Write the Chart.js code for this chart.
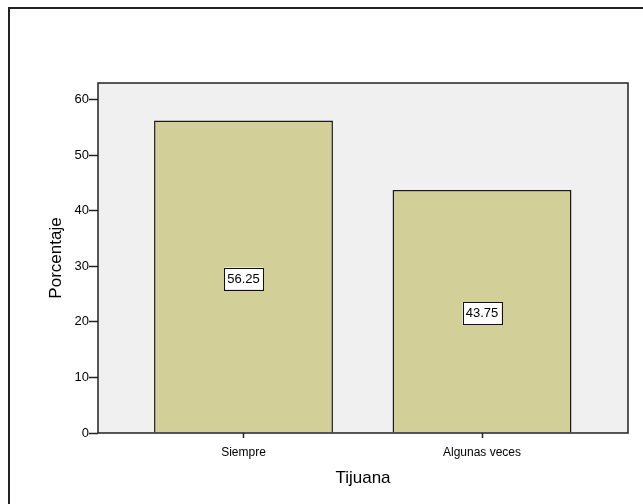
<!DOCTYPE html>
<html>
<head>
<meta charset="utf-8">
<script src="https://cdn.jsdelivr.net/npm/chart.js@4"></script>
<style>
  body { margin: 0; background: #fff; }
  #wrap { width: 643px; height: 504px; }
</style>
</head>
<body>
<div id="wrap"><canvas id="myChart"></canvas></div>
<script>
const categories = ['Siempre', 'Algunas veces'];
const percentages = [56.25, 43.75];
const yTicks = [0, 10, 20, 30, 40, 50, 60];

const ctx = document.getElementById('myChart').getContext('2d');
const FONT = 'Arial, "Liberation Sans", sans-serif';

// outer frame + grey plot background
const backdrop = {
    id: 'backdrop',
    beforeDraw(chart) {
        const c = chart.ctx, a = chart.chartArea;
        c.save();
        c.fillStyle = '#f0f0f0';
        c.fillRect(a.left, a.top, a.right - a.left, a.bottom - a.top);
        c.strokeStyle = '#222';
        c.lineWidth = 2;
        c.strokeRect(9, 8, 700, 600);
        c.restore();
    },
    afterDatasetsDraw(chart) {
        const c = chart.ctx, a = chart.chartArea;
        c.save();
        c.strokeStyle = '#222';
        c.lineWidth = 1.5;
        c.strokeRect(a.left, a.top, a.right - a.left, a.bottom - a.top);
        c.restore();
    }
};

// boxed value labels in the middle of each bar
const valueBoxes = {
    id: 'valueBoxes',
    afterDatasetsDraw(chart) {
        const c = chart.ctx;
        const meta = chart.getDatasetMeta(0);
        c.save();
        c.font = '13px ' + FONT;
        c.textAlign = 'center';
        c.textBaseline = 'middle';
        meta.data.forEach((bar, i) => {
            const txt = percentages[i].toFixed(2);
            const cx = bar.x;
            const cy = (bar.y + bar.base) / 2 + 2;
            const w = 39, h = 22;
            c.fillStyle = '#fff';
            c.fillRect(cx - w / 2, cy - h / 2, w, h);
            c.strokeStyle = '#111';
            c.lineWidth = 1;
            c.strokeRect(Math.round(cx - w / 2) + 0.5, Math.round(cy - h / 2) + 0.5, w, h);
            c.fillStyle = '#000';
            c.fillText(txt, cx, cy + 0.5);
        });
        c.restore();
    }
};

new Chart(ctx, {
    type: 'bar',
    data: {
        datasets: [{
            data: categories.map((_, i) => ({ x: i, y: percentages[i] })),
            backgroundColor: '#d3cf99',
            borderColor: '#1a1a1a',
            borderWidth: 1.5,
            barPercentage: 0.75,
            categoryPercentage: 1
        }]
    },
    options: {
        responsive: true,
        maintainAspectRatio: false,
        animation: false,
        layout: { padding: { left: 0, top: 83, right: 15, bottom: 0 } },
        plugins: {
            legend: { display: false },
            tooltip: { enabled: false }
        },
        scales: {
            x: {
                type: 'linear',
                offset: false,
                min: -0.61,
                max: 1.612,
                afterBuildTicks: (scale) => { scale.ticks = categories.map((_, i) => ({ value: i })); },
                afterFit: (scale) => { scale.height = 71; },
                grid: { display: true, drawOnChartArea: false, drawTicks: true, tickLength: 5, tickWidth: 1.5, offset: false, color: '#222' },
                border: { display: false },
                ticks: {
                    color: '#000',
                    padding: 7,
                    maxRotation: 0,
                    autoSkip: false,
                    font: { family: FONT, size: 12 },
                    callback: (value) => categories[value]
                },
                title: {
                    display: true,
                    text: 'Tijuana',
                    color: '#000',
                    font: { family: FONT, size: 17 },
                    padding: { top: 0, bottom: 15 }
                }
            },
            y: {
                min: 0,
                max: 63,
                afterBuildTicks: (scale) => { scale.ticks = yTicks.map(v => ({ value: v })); },
                afterFit: (scale) => { scale.width = 98; },
                grid: { display: true, drawOnChartArea: false, drawTicks: true, tickLength: 9, tickWidth: 1.5, color: '#222' },
                border: { display: false },
                ticks: {
                    color: '#000',
                    padding: 0,
                    font: { family: FONT, size: 13 }
                },
                title: {
                    display: true,
                    text: 'Porcentaje',
                    color: '#000',
                    font: { family: FONT, size: 17 },
                    padding: { top: 46, bottom: 0 }
                }
            }
        }
    },
    plugins: [backdrop, valueBoxes]
});
</script>
</body>
</html>
